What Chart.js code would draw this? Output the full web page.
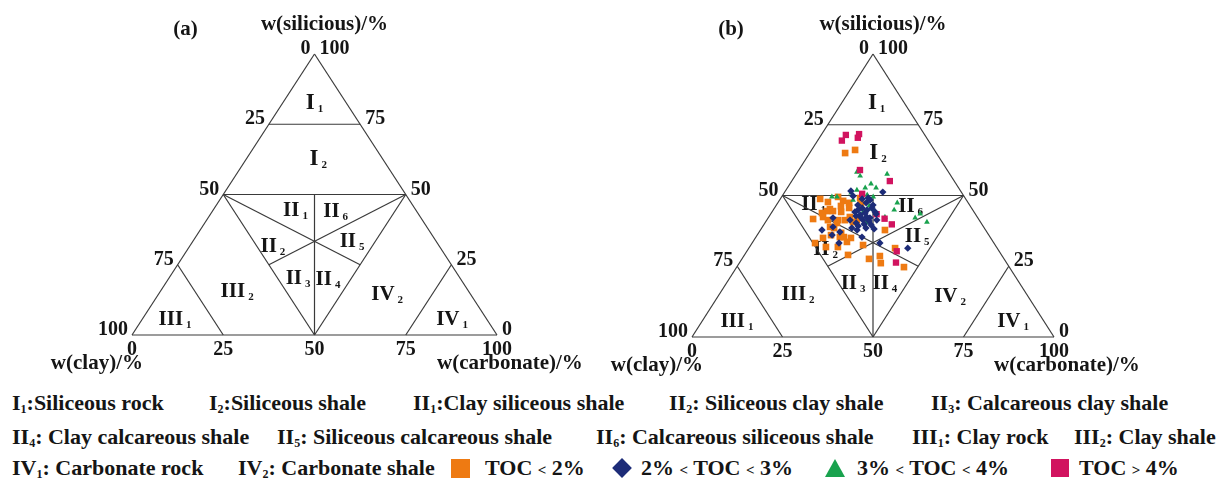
<!DOCTYPE html>
<html>
<head>
<meta charset="utf-8">
<script src="https://cdn.jsdelivr.net/npm/chart.js@4.4.1/dist/chart.umd.min.js"></script>
<style>
  html, body { margin: 0; padding: 0; background: #fff; width: 1216px; height: 482px; overflow: hidden; }
  .panel { position: absolute; top: 0; width: 608px; height: 385px; }
  .item { position: absolute; font: bold 22px "Liberation Serif", serif; color: #151515; white-space: nowrap; line-height: 24px; }
  .item sub { font-size: 12px; vertical-align: baseline; position: relative; top: 3px; }
  .item .op { font-size: 15px; }
  .mk { position: absolute; }
</style>
</head>
<body>
<div class="panel" style="left:0"><canvas id="panelA" width="608" height="385"></canvas></div>
<div class="panel" style="left:608px"><canvas id="panelB" width="608" height="385"></canvas></div>
<div id="legend"></div>
<script>
// Sample compositions, each entry is [clay, silicious, carbonate] in %
const tocBelow2 = [
  [25.2,65.0,9.8],[21.9,66.1,12.0],[40.2,48.8,11.0],[38.6,47.7,13.7],[34.9,49.5,15.6],
  [34.2,48.1,17.7],[32.9,47.4,19.7],[29.0,49.1,21.9],[29.6,47.4,23.0],[35.7,46.3,18.0],
  [33.8,45.6,20.6],[39.3,45.2,15.5],[40.5,44.5,15.0],[38.8,44.5,16.7],[36.7,44.2,19.1],
  [35.2,42.4,22.4],[45.7,41.7,12.6],[42.6,42.4,15.0],[42.2,43.8,14.0],[41.8,41.3,16.9],
  [39.0,41.3,19.7],[37.1,41.3,21.6],[35.2,40.6,24.2],[39.8,40.3,19.9],[42.4,38.9,18.7],
  [41.5,38.5,20.0],[27.8,37.8,34.4],[49.4,33.2,17.4],[46.3,35.0,18.7],[43.6,36.0,20.4],
  [41.5,35.3,23.2],[40.4,35.3,24.3],[40.4,33.6,26.0],[38.6,35.0,26.4],[40.4,36.8,22.8],
  [47.1,31.8,21.1],[43.8,31.8,24.4],[36.5,32.5,31.0],[42.4,29.0,28.6],[37.3,27.6,35.1],
  [33.8,28.6,37.6],[34.8,26.1,39.1],[29.1,24.7,46.2],[28.2,31.4,40.4],[33.8,41.3,24.9]
];
const toc2to3 = [
  [30.3,51.6,18.1],[21.7,51.2,27.1],[30.6,49.8,19.6],[28.6,48.8,22.6],[26.6,48.4,25.0],
  [30.9,46.6,22.5],[30.2,45.6,24.2],[29.2,44.9,25.9],[32.9,44.2,22.9],[32.0,43.1,24.9],
  [30.5,42.4,27.1],[29.8,42.1,28.1],[28.3,41.3,30.4],[32.1,41.3,26.6],[34.5,40.3,25.2],
  [35.7,41.3,23.0],[40.0,42.1,17.9],[45.2,37.8,17.0],[41.6,38.9,19.5],[40.6,37.1,22.3],
  [35.5,37.8,26.7],[31.5,33.2,35.3],[24.7,31.4,43.9],[43.3,36.0,20.7],[42.8,33.2,24.0],
  [35.4,35.3,29.3],[26.7,46.6,26.7],[28.2,47.4,24.4],[27.3,44.2,28.5],[34.5,39.2,26.3],
  [32.5,39.9,27.6],[30.7,39.6,29.7],[27.4,43.5,29.1],[26.8,49.1,24.1],[36.6,38.5,24.9],
  [31.7,44.9,23.4],[30.3,43.8,25.9],[30.6,41.0,28.4],[32.2,42.1,25.7],[27.5,45.6,26.9],
  [33.3,42.8,23.9],[32.7,38.5,28.8],[30.6,38.2,31.2]
];
const toc3to4 = [
  [25.3,58.3,16.4],[25.1,56.9,18.0],[17.3,57.6,25.1],[23.5,54.1,22.4],[22.8,52.7,24.5],
  [28.5,51.9,19.6],[25.8,52.7,21.5],[36.6,49.5,13.9],[35.2,49.5,15.3],[30.6,50.9,18.5],
  [31.3,48.4,20.3],[26.5,50.2,23.3],[25.2,49.5,25.3],[27.9,46.3,25.8],[30.6,44.2,25.2],
  [27.4,45.2,27.4],[21.7,44.9,33.4],[25.5,42.4,32.1],[31.8,40.3,27.9],[17.3,42.1,40.6],
  [14.8,40.6,44.6],[15.2,43.5,41.3],[31.1,45.6,23.3],[19.6,47.4,33.0]
];
const tocAbove4 = [
  [21.8,71.4,6.8],[23.9,69.4,6.7],[18.0,71.7,10.3],[19.0,70.4,10.6],[24.1,59.0,16.9],
  [17.8,55.1,27.1],[27.7,50.6,21.7],[27.3,43.4,29.3],[25.9,41.8,32.3],[24.9,39.8,35.3],
  [28.3,30.3,41.4],[30.5,26.3,43.2]
];

// Tick values along each side
const tickValues = [0, 25, 50, 75, 100];

// Classification boundaries as pairs of [clay, silicious, carbonate] end points
const boundaries = [
  [[100,0,0],[0,100,0]], [[0,100,0],[0,0,100]], [[0,0,100],[100,0,0]],
  [[25,75,0],[0,75,25]],
  [[50,50,0],[0,50,50]],
  [[25,50,25],[50,0,50]],
  [[50,50,0],[50,0,50]],
  [[0,50,50],[50,0,50]],
  [[50,50,0],[25,25,50]],
  [[0,50,50],[50,25,25]],
  [[75,25,0],[75,0,25]],
  [[0,25,75],[25,0,75]]
];

// Region names (numeral, subscript)
const regionNames = [
  ['I','1'],['I','2'],['II','1'],['II','6'],['II','2'],['II','5'],
  ['II','3'],['II','4'],['III','2'],['IV','2'],['III','1'],['IV','1']
];
// Label anchor spots in plot units (x across, y up, 0-100)
const labelSpotsA = [[50,83],[51,63],[44.8,45],[55.8,44.5],[38.6,32],[60.3,33.8],[45.5,20.6],[53.7,20.3],[28.8,16],[69.9,14.9],[11.8,6],[87.7,6]];
const labelSpotsB = [[51,83],[51.4,65.4],[33.6,47.3],[60.4,46.6],[36.9,31.4],[62.2,36],[44.5,19.4],[53.3,19.4],[29.3,15.5],[71.3,14.8],[12.4,6],[88.7,6]];

const LINE = '#3a3a3a';
const FONT = '"Liberation Serif", serif';

// ternary [clay, silicious, carbonate] -> plot x/y
const toXY = ([clay, sil, carb]) => ({ x: carb + sil / 2, y: sil });

function drawSub(ctx, main, sub, x, y, mainSize, subSize, align) {
  ctx.font = 'bold ' + mainSize + 'px ' + FONT;
  const w1 = ctx.measureText(main).width;
  ctx.font = 'bold ' + subSize + 'px ' + FONT;
  const w2 = sub ? ctx.measureText(sub).width : 0;
  const gap = sub ? 3 : 0;
  const total = w1 + gap + w2;
  let x0 = align === 'center' ? x - total / 2 : (align === 'right' ? x - total : x);
  ctx.textAlign = 'left';
  ctx.textBaseline = 'alphabetic';
  ctx.font = 'bold ' + mainSize + 'px ' + FONT;
  ctx.fillText(main, x0, y);
  if (sub) {
    ctx.font = 'bold ' + subSize + 'px ' + FONT;
    ctx.fillText(sub, x0 + w1 + gap, y + 3);
  }
}

function makePanel(id, opt) {
  const decor = {
    id: 'ternaryDecor',
    beforeDatasetsDraw(chart) {
      const ctx = chart.ctx, xs = chart.scales.x, ys = chart.scales.y;
      ctx.save();
      ctx.fillStyle = '#151515';
      regionNames.forEach((nm, i) => {
        const [lx, ly] = opt.spots[i];
        const big = nm[0] === 'I';
        drawSub(ctx, nm[0], nm[1], xs.getPixelForValue(lx), ys.getPixelForValue(ly) + 7,
          big ? 23 : 21, 11, 'center');
      });
      ctx.restore();
    },
    afterDraw(chart) {
      const ctx = chart.ctx, xs = chart.scales.x, ys = chart.scales.y;
      const P = (t) => { const p = toXY(t); return [xs.getPixelForValue(p.x), ys.getPixelForValue(p.y)]; };
      ctx.save();
      ctx.fillStyle = '#151515';
      ctx.font = 'bold 20px ' + FONT;
      ctx.textBaseline = 'middle';
      tickValues.forEach(v => {
        // clay along the left side
        let [px, py] = P([v, 100 - v, 0]);
        ctx.textAlign = 'right';
        ctx.fillText(String(v), px - 4, py - 5);
        // silicious along the right side
        [px, py] = P([0, v, 100 - v]);
        ctx.textAlign = 'left';
        ctx.fillText(String(v), px + 5, py - 5);
        // carbonate along the base
        [px, py] = P([100 - v, 0, v]);
        ctx.textAlign = 'center';
        ctx.fillText(String(v), px, py + 15);
      });
      ctx.font = 'bold 21px ' + FONT;
      const [ax, ay] = P([0, 100, 0]);
      ctx.textAlign = 'center';
      ctx.fillText('w(silicious)/%', ax + 10, 25);
      ctx.fillText(opt.tag, ax + opt.tagDx, 30);
      const [lx, ly] = P([100, 0, 0]);
      ctx.textAlign = 'right';
      ctx.fillText('w(clay)/%', lx + 11, ly + 29);
      const [rx, ry] = P([0, 0, 100]);
      ctx.textAlign = 'left';
      ctx.fillText('w(carbonate)/%', rx - 60, ry + 29);
      ctx.restore();
    }
  };

  const datasets = boundaries.map(seg => ({
    data: seg.map(toXY), showLine: true, borderColor: LINE, borderWidth: 1.2,
    pointRadius: 0, order: 10, clip: false
  }));
  if (opt.samples) {
    datasets.push(
      { data: tocBelow2.map(toXY), pointStyle: 'rect', pointRadius: 4.7, backgroundColor: '#ee7a12', borderWidth: 0, order: 4 },
      { data: toc3to4.map(toXY), pointStyle: 'triangle', pointRadius: 3.3, backgroundColor: '#19a24e', borderWidth: 0, order: 3 },
      { data: tocAbove4.map(toXY), pointStyle: 'rect', pointRadius: 4.5, backgroundColor: '#d1135f', borderWidth: 0, order: 2 },
      { data: toc2to3.map(toXY), pointStyle: 'rectRot', pointRadius: 3.7, backgroundColor: '#1d2c78', borderWidth: 0, order: 1 }
    );
  }

  new Chart(document.getElementById(id), {
    type: 'scatter',
    data: { datasets },
    options: {
      responsive: false, animation: false, devicePixelRatio: 1,
      layout: { padding: opt.pad },
      scales: {
        x: { type: 'linear', min: 0, max: 100, display: false },
        y: { type: 'linear', min: 0, max: 100, display: false }
      },
      plugins: { legend: { display: false }, tooltip: { enabled: false } },
      events: []
    },
    plugins: [decor]
  });
}

makePanel('panelA', { pad: { left: 132, right: 111, top: 54, bottom: 50 }, spots: labelSpotsA, tag: '(a)', tagDx: -129, samples: false });
makePanel('panelB', { pad: { left: 84, right: 162, top: 54, bottom: 48 }, spots: labelSpotsB, tag: '(b)', tagDx: -142, samples: true });

// Legend below the diagrams
const legendRows = [
  { y: 391, items: [[12,'I','1',':Siliceous rock'],[209,'I','2',':Siliceous shale'],[413,'II','1',':Clay siliceous shale'],[669,'II','2',': Siliceous clay shale'],[931,'II','3',': Calcareous clay shale']] },
  { y: 425, items: [[12,'II','4',': Clay calcareous shale'],[277,'II','5',': Siliceous calcareous shale'],[596,'II','6',': Calcareous siliceous shale'],[912,'III','1',': Clay rock'],[1074,'III','2',': Clay shale']] },
  { y: 456, items: [[12,'IV','1',': Carbonate rock'],[238,'IV','2',': Carbonate shale'],[485,'','','TOC < 2%'],[641,'','','2% < TOC < 3%'],[857,'','','3% < TOC < 4%'],[1079,'','','TOC > 4%']] }
];
const legend = document.getElementById('legend');
// comparison signs are set a little smaller than the surrounding text
const fmt = t => t.replace(/[<>]/g, c => '<span class="op">' + (c === '<' ? '&lt;' : '&gt;') + '</span>');
legendRows.forEach(row => row.items.forEach(([x, n, s, t]) => {
  const el = document.createElement('div');
  el.className = 'item';
  el.style.left = x + 'px';
  el.style.top = row.y + 'px';
  el.innerHTML = (n ? n + '<sub>' + s + '</sub>' : '') + fmt(t);
  legend.appendChild(el);
}));
// Legend markers
const markers = [
  'left:451px;top:459px;width:19px;height:19px;background:#ee7a12',
  'left:615px;top:461px;width:14px;height:14px;background:#1d2c78;transform:rotate(45deg)',
  'left:825px;top:459px;width:0;height:0;border-left:10px solid transparent;border-right:10px solid transparent;border-bottom:18px solid #19a24e',
  'left:1051px;top:459px;width:18px;height:18px;background:#d1135f'
];
markers.forEach(css => {
  const m = document.createElement('div');
  m.className = 'mk';
  m.style.cssText += css;
  legend.appendChild(m);
});
</script>
</body>
</html>
